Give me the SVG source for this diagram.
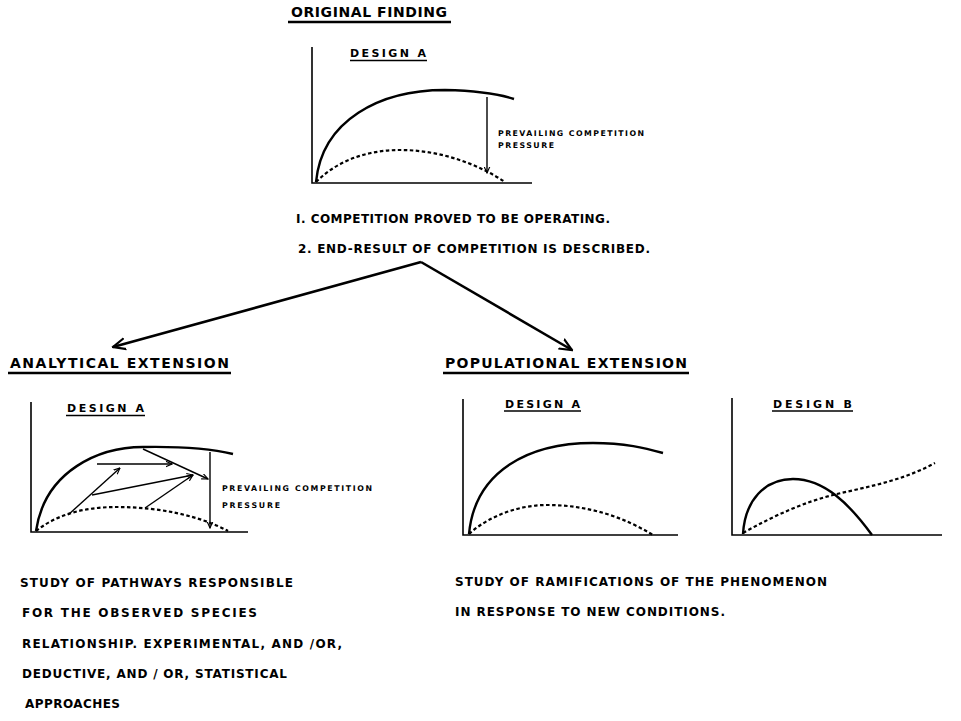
<svg xmlns="http://www.w3.org/2000/svg" width="961" height="721" viewBox="0 0 961 721">
<defs>
<style>
.t{font-family:"DejaVu Sans","Liberation Sans",sans-serif;font-weight:bold;fill:#000}
.h{font-size:14px}
.m{font-size:12px}
.d{font-size:11px}
.s{font-size:7.8px}
.ax{fill:none;stroke:#000;stroke-width:1.6}
.sol{fill:none;stroke:#000;stroke-width:2.4}
.dsh{fill:none;stroke:#000;stroke-width:2.2;stroke-dasharray:3.5 2.5}
.ul{stroke:#000;stroke-width:2.6}
.uls{stroke:#000;stroke-width:1.6}
.ar{fill:none;stroke:#000;stroke-width:1.4}
.big{fill:none;stroke:#000;stroke-width:2.6}
</style>
<marker id="ah" viewBox="0 0 10 10" refX="9" refY="5" markerWidth="7" markerHeight="7" orient="auto" markerUnits="userSpaceOnUse">
<path d="M0,1 L9,5 L0,9" fill="none" stroke="#000" stroke-width="1.6"/>
</marker>
<marker id="ahb" viewBox="0 0 10 10" refX="9" refY="5" markerWidth="14" markerHeight="14" orient="auto" markerUnits="userSpaceOnUse">
<path d="M0,1 L9,5 L0,9" fill="none" stroke="#000" stroke-width="1.6"/>
</marker>
</defs>
<rect width="961" height="721" fill="#fff"/>

<g id="original">
<text class="t h" x="291" y="17" textLength="156" lengthAdjust="spacing">ORIGINAL  FINDING</text>
<line class="ul" x1="288" y1="22" x2="451" y2="22"/>
<path class="ax" d="M312,47 V183 H532"/>
<text class="t d" x="350" y="57" textLength="76" lengthAdjust="spacing">DESIGN  A</text>
<line class="uls" x1="350" y1="60.5" x2="427" y2="60.5"/>
<path class="sol" d="M316,182 C322,120 380,90 445,90 Q490,91 514,99"/>
<path class="dsh" d="M316,182 C340,158 372,150 400,150 C440,150 478,164 505,182"/>
<line class="ar" x1="487" y1="97" x2="487" y2="173" marker-end="url(#ah)"/>
<text class="t s" x="498" y="136" textLength="146" lengthAdjust="spacing">PREVAILING COMPETITION</text>
<text class="t s" x="498" y="148" textLength="56" lengthAdjust="spacing">PRESSURE</text>
<text class="t m" x="296" y="223" textLength="314" lengthAdjust="spacing">I. COMPETITION PROVED TO BE OPERATING.</text>
<text class="t m" x="298" y="253" textLength="352" lengthAdjust="spacing">2. END-RESULT OF COMPETITION IS DESCRIBED.</text>
</g>

<g id="connectors">
<line class="big" x1="421" y1="262" x2="113" y2="347" marker-end="url(#ahb)"/>
<line class="big" x1="421" y1="262" x2="572" y2="350" marker-end="url(#ahb)"/>
</g>

<g id="analytical">
<text class="t h" x="10" y="368" textLength="219" lengthAdjust="spacing">ANALYTICAL  EXTENSION</text>
<line class="ul" x1="8" y1="373" x2="231" y2="373"/>
<path class="ax" d="M31,402 V532 H248"/>
<text class="t d" x="67" y="412" textLength="77" lengthAdjust="spacing">DESIGN  A</text>
<line class="uls" x1="66" y1="415.5" x2="145" y2="415.5"/>
<path class="sol" d="M36,531 C45,470 100,447 143,447 Q200,446 233,454"/>
<path class="dsh" d="M36,531 C60,512 90,507 117,507 C160,507 200,516 228,531"/>
<line class="ar" x1="210" y1="452" x2="210" y2="528" marker-end="url(#ah)"/>
<line class="ar" x1="68" y1="515" x2="120" y2="468" marker-end="url(#ah)"/>
<line class="ar" x1="92" y1="495" x2="193" y2="475" marker-end="url(#ah)"/>
<line class="ar" x1="145" y1="508" x2="193" y2="475" marker-end="url(#ah)"/>
<line class="ar" x1="97" y1="464" x2="172" y2="464" marker-end="url(#ah)"/>
<line class="ar" x1="143" y1="449" x2="208" y2="479" marker-end="url(#ah)"/>
<text class="t s" x="222" y="491" textLength="150" lengthAdjust="spacing">PREVAILING COMPETITION</text>
<text class="t s" x="222" y="508" textLength="58" lengthAdjust="spacing">PRESSURE</text>
<text class="t m" x="20" y="587" textLength="273" lengthAdjust="spacing">STUDY OF PATHWAYS RESPONSIBLE</text>
<text class="t m" x="22" y="617" textLength="235" lengthAdjust="spacing">FOR  THE OBSERVED  SPECIES</text>
<text class="t m" x="22" y="648" textLength="320" lengthAdjust="spacing">RELATIONSHIP.   EXPERIMENTAL, AND /OR,</text>
<text class="t m" x="22" y="678" textLength="265" lengthAdjust="spacing">DEDUCTIVE, AND / OR, STATISTICAL</text>
<text class="t m" x="25" y="708" textLength="95" lengthAdjust="spacing">APPROACHES</text>
</g>

<g id="populational">
<text class="t h" x="445" y="368" textLength="242" lengthAdjust="spacing">POPULATIONAL  EXTENSION</text>
<line class="ul" x1="443" y1="373" x2="689" y2="373"/>
<path class="ax" d="M463,399 V535 H678"/>
<text class="t d" x="505" y="408" textLength="75" lengthAdjust="spacing">DESIGN  A</text>
<line class="uls" x1="504" y1="411" x2="581" y2="411"/>
<path class="sol" d="M469,534 C475,470 530,443 593,443 C625,443 645,448 663,453"/>
<path class="dsh" d="M469,534 C490,515 520,505 547,505 C590,505 625,518 653,535"/>
<path class="ax" d="M732,398 V535 H942"/>
<text class="t d" x="773" y="408" textLength="79" lengthAdjust="spacing">DESIGN  B</text>
<line class="uls" x1="772" y1="411" x2="853" y2="411"/>
<path class="sol" d="M743,534 C745,500 765,479 793,479 C825,479 850,505 872,535"/>
<path class="dsh" d="M743,533 C775,515 805,502 833,495 C865,487 900,482 935,463"/>
<text class="t m" x="455" y="586" textLength="372" lengthAdjust="spacing">STUDY OF RAMIFICATIONS OF THE PHENOMENON</text>
<text class="t m" x="455" y="616" textLength="270" lengthAdjust="spacing">IN RESPONSE TO NEW CONDITIONS.</text>
</g>
</svg>
